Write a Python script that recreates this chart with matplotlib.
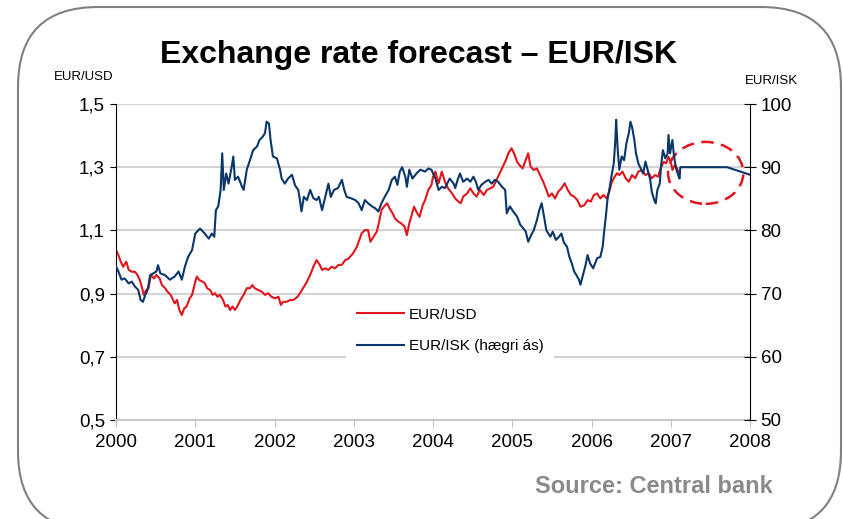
import matplotlib
matplotlib.use('Agg')
import matplotlib.pyplot as plt
from matplotlib.patches import FancyBboxPatch, Ellipse
from matplotlib.transforms import IdentityTransform
from matplotlib.lines import Line2D

plt.rcParams['font.family'] = ['Liberation Sans', 'DejaVu Sans']

# EUR/USD (left axis)
usd_t = [2000.00, 2000.03, 2000.06, 2000.09, 2000.13, 2000.16, 2000.20, 2000.24, 2000.27, 2000.30,
         2000.33, 2000.35, 2000.38, 2000.41, 2000.44, 2000.48, 2000.51, 2000.55, 2000.58, 2000.62,
         2000.65, 2000.69, 2000.72, 2000.74, 2000.77, 2000.80, 2000.83, 2000.86, 2000.89, 2000.93,
         2000.96, 2001.00, 2001.02, 2001.05, 2001.09, 2001.12, 2001.15, 2001.19, 2001.22, 2001.25,
         2001.28, 2001.31, 2001.35, 2001.38, 2001.41, 2001.44, 2001.47, 2001.50, 2001.53, 2001.57,
         2001.61, 2001.65, 2001.69, 2001.72, 2001.75, 2001.80, 2001.84, 2001.88, 2001.92, 2001.96,
         2002.01, 2002.05, 2002.08, 2002.11, 2002.15, 2002.20, 2002.24, 2002.29, 2002.32, 2002.36,
         2002.41, 2002.45, 2002.49, 2002.53, 2002.57, 2002.60, 2002.64, 2002.68, 2002.72, 2002.76,
         2002.81, 2002.85, 2002.89, 2002.93, 2002.99, 2003.04, 2003.07, 2003.10, 2003.14, 2003.18,
         2003.21, 2003.25, 2003.29, 2003.32, 2003.35, 2003.38, 2003.42, 2003.45, 2003.49, 2003.52,
         2003.56, 2003.60, 2003.64, 2003.67, 2003.70, 2003.73, 2003.76, 2003.79, 2003.83, 2003.87,
         2003.90, 2003.94, 2003.98, 2004.00, 2004.03, 2004.07, 2004.11, 2004.15, 2004.19, 2004.24,
         2004.28, 2004.32, 2004.35, 2004.38, 2004.43, 2004.47, 2004.51, 2004.55, 2004.59, 2004.64,
         2004.68, 2004.72, 2004.76, 2004.80, 2004.85, 2004.89, 2004.92, 2004.95, 2004.99, 2005.03,
         2005.06, 2005.09, 2005.13, 2005.17, 2005.20, 2005.23, 2005.27, 2005.31, 2005.35, 2005.39,
         2005.43, 2005.46, 2005.50, 2005.54, 2005.58, 2005.62, 2005.66, 2005.70, 2005.74, 2005.78,
         2005.82, 2005.86, 2005.91, 2005.95, 2005.99, 2006.03, 2006.07, 2006.11, 2006.15, 2006.19,
         2006.23, 2006.25, 2006.28, 2006.32, 2006.35, 2006.39, 2006.43, 2006.47, 2006.51, 2006.55,
         2006.59, 2006.63, 2006.68, 2006.72, 2006.76, 2006.80, 2006.84, 2006.87, 2006.91, 2006.94,
         2006.97, 2007.00, 2007.02, 2007.05, 2007.08, 2007.10]
usd = [1.038, 1.022, 1.001, 0.985, 1.001, 0.975, 0.969, 0.969, 0.959, 0.943,
       0.917, 0.896, 0.911, 0.917, 0.959, 0.948, 0.959, 0.948, 0.927, 0.917,
       0.906, 0.896, 0.880, 0.869, 0.880, 0.848, 0.832, 0.853, 0.859, 0.885,
       0.896, 0.938, 0.954, 0.943, 0.938, 0.933, 0.917, 0.911, 0.896, 0.901,
       0.890, 0.896, 0.880, 0.859, 0.864, 0.848, 0.859, 0.848, 0.859, 0.880,
       0.896, 0.917, 0.917, 0.927, 0.917, 0.911, 0.906, 0.896, 0.901, 0.890,
       0.885, 0.890, 0.864, 0.874, 0.874, 0.880, 0.880, 0.890, 0.901, 0.917,
       0.938, 0.959, 0.985, 1.006, 0.991, 0.975, 0.980, 0.975, 0.985, 0.980,
       0.991, 0.991, 1.006, 1.010, 1.027, 1.049, 1.070, 1.091, 1.101, 1.101,
       1.064, 1.080, 1.096, 1.128, 1.165, 1.175, 1.186, 1.170, 1.154, 1.138,
       1.128, 1.122, 1.112, 1.085, 1.122, 1.149, 1.175, 1.159, 1.143, 1.180,
       1.196, 1.228, 1.244, 1.270, 1.286, 1.249, 1.286, 1.254, 1.233, 1.217,
       1.201, 1.191, 1.186, 1.207, 1.217, 1.233, 1.217, 1.207, 1.228, 1.212,
       1.228, 1.233, 1.238, 1.259, 1.286, 1.307, 1.323, 1.344, 1.360, 1.339,
       1.317, 1.307, 1.296, 1.323, 1.344, 1.302, 1.291, 1.296, 1.275, 1.254,
       1.228, 1.207, 1.217, 1.201, 1.223, 1.233, 1.249, 1.228, 1.212, 1.207,
       1.196, 1.175, 1.180, 1.196, 1.191, 1.212, 1.217, 1.201, 1.212, 1.201,
       1.228, 1.249, 1.265, 1.281, 1.275, 1.286, 1.265, 1.254, 1.275, 1.265,
       1.286, 1.291, 1.275, 1.281, 1.265, 1.275, 1.270, 1.296, 1.317, 1.312,
       1.333, 1.317, 1.291, 1.307, 1.296, 1.281]

# EUR/ISK (right axis)
isk_t = [2000.00, 2000.03, 2000.07, 2000.11, 2000.16, 2000.20, 2000.24, 2000.28, 2000.31, 2000.34,
         2000.37, 2000.40, 2000.43, 2000.47, 2000.51, 2000.53, 2000.56, 2000.62, 2000.68, 2000.74,
         2000.79, 2000.83, 2000.87, 2000.91, 2000.96, 2001.00, 2001.06, 2001.12, 2001.17, 2001.21,
         2001.24, 2001.26, 2001.29, 2001.32, 2001.34, 2001.36, 2001.39, 2001.42, 2001.46, 2001.48,
         2001.50, 2001.54, 2001.59, 2001.61, 2001.65, 2001.69, 2001.73, 2001.78, 2001.81, 2001.85,
         2001.88, 2001.90, 2001.93, 2001.95, 2001.98, 2002.03, 2002.07, 2002.09, 2002.13, 2002.17,
         2002.22, 2002.26, 2002.30, 2002.32, 2002.34, 2002.37, 2002.41, 2002.45, 2002.49, 2002.53,
         2002.56, 2002.60, 2002.64, 2002.68, 2002.71, 2002.75, 2002.80, 2002.85, 2002.88, 2002.91,
         2002.96, 2003.02, 2003.06, 2003.10, 2003.14, 2003.18, 2003.23, 2003.27, 2003.31, 2003.35,
         2003.39, 2003.44, 2003.48, 2003.52, 2003.55, 2003.58, 2003.61, 2003.65, 2003.67, 2003.70,
         2003.74, 2003.79, 2003.84, 2003.90, 2003.94, 2003.98, 2004.03, 2004.07, 2004.11, 2004.15,
         2004.21, 2004.26, 2004.28, 2004.31, 2004.34, 2004.38, 2004.43, 2004.47, 2004.51, 2004.54,
         2004.57, 2004.61, 2004.66, 2004.70, 2004.74, 2004.78, 2004.82, 2004.87, 2004.91, 2004.93,
         2004.97, 2005.01, 2005.06, 2005.10, 2005.14, 2005.17, 2005.20, 2005.24, 2005.27, 2005.31,
         2005.34, 2005.37, 2005.40, 2005.43, 2005.48, 2005.51, 2005.55, 2005.59, 2005.62, 2005.65,
         2005.69, 2005.72, 2005.75, 2005.78, 2005.81, 2005.84, 2005.86, 2005.88, 2005.92, 2005.95,
         2005.98, 2006.02, 2006.07, 2006.11, 2006.14, 2006.16, 2006.18, 2006.20, 2006.23, 2006.25,
         2006.28, 2006.30, 2006.31, 2006.33, 2006.35, 2006.38, 2006.41, 2006.44, 2006.47, 2006.49,
         2006.51, 2006.54, 2006.56, 2006.59, 2006.62, 2006.65, 2006.68, 2006.72, 2006.74, 2006.76,
         2006.79, 2006.81, 2006.83, 2006.86, 2006.88, 2006.90, 2006.93, 2006.96, 2006.97, 2006.99,
         2007.02, 2007.04, 2007.07, 2007.10, 2007.11]
isk = [74.3, 73.5, 72.2, 72.4, 71.6, 71.9, 71.1, 70.6, 69.0, 68.7,
       69.8, 70.6, 72.9, 73.2, 73.5, 74.5, 73.2, 72.9, 72.2, 72.7,
       73.5, 72.2, 74.3, 75.8, 76.9, 79.5, 80.3, 79.5, 78.7, 79.5,
       79.0, 83.2, 83.8, 86.4, 92.2, 86.4, 89.0, 87.4, 90.1, 91.7,
       88.0, 88.5, 86.9, 86.4, 89.6, 91.1, 92.7, 93.3, 94.3, 94.8,
       95.4, 97.2, 96.9, 94.3, 91.7, 91.4, 89.6, 88.2, 87.4, 88.2,
       88.8, 87.1, 86.4, 84.8, 83.0, 85.3, 84.8, 86.4, 85.1, 84.8,
       85.3, 83.2, 85.3, 87.4, 85.3, 86.4, 86.7, 88.0, 86.4, 85.3,
       85.1, 84.8, 84.3, 83.2, 84.8, 84.3, 83.8, 83.5, 83.0, 84.3,
       85.3, 86.4, 88.0, 88.5, 87.2, 89.3, 90.0, 88.5, 86.9, 89.6,
       88.2, 89.0, 89.6, 89.3, 89.8, 89.6, 88.2, 86.4, 86.9, 86.7,
       88.2, 87.4, 86.7, 88.0, 89.0, 87.7, 88.2, 87.7, 88.5, 87.7,
       86.4, 87.2, 87.7, 88.0, 87.4, 88.0, 87.7, 86.9, 86.4, 82.7,
       83.8, 83.0, 82.2, 80.9, 80.3, 79.8, 78.2, 79.3, 80.0, 81.6,
       83.2, 84.3, 82.2, 80.0, 79.0, 79.8, 78.5, 79.0, 79.5, 78.1,
       77.4, 75.8, 74.8, 73.5, 72.9, 72.2, 71.4, 72.4, 74.3, 76.1,
       74.8, 74.0, 75.6, 75.8, 77.4, 80.0, 82.2, 84.8, 86.9, 88.5,
       90.6, 94.3, 97.5, 92.7, 89.6, 91.7, 91.1, 93.8, 95.4, 97.2,
       96.4, 94.3, 92.2, 90.6, 89.8, 89.0, 90.9, 89.0, 88.0, 86.1,
       84.8, 84.3, 86.4, 87.4, 90.6, 92.7, 91.4, 92.2, 95.1, 92.2,
       94.3, 91.7, 89.6, 88.5, 88.2]

# forecast path
fc_t = [2007.11, 2007.12, 2007.71, 2007.83, 2008.00]
fc = [88.2, 90.0, 90.0, 89.5, 88.8]

red = '#e3141c'
blue = '#0a3669'

fig = plt.figure(figsize=(8.43, 5.19), dpi=100)
ax = fig.add_axes([0.1376, 0.1908, 0.7522, 0.6088])
ax2 = ax.twinx()

ax.plot(usd_t, usd, color=red, lw=1.5)
ax2.plot(isk_t + fc_t, isk + fc, color=blue, lw=1.5)

ax.set_xlim(2000, 2008)
ax.set_ylim(0.5, 1.5)
ax2.set_ylim(50, 100)

ax.set_xticks(range(2000, 2009))
ax.set_xticklabels([str(y) for y in range(2000, 2009)])
yt = [0.5, 0.7, 0.9, 1.1, 1.3, 1.5]
ax.set_yticks(yt)
ax.set_yticklabels([('%.1f' % v).replace('.', ',') for v in yt])
ax2.set_yticks([50, 60, 70, 80, 90, 100])

ax.grid(axis='y', color='#d3d3d3', lw=1.5)
ax.set_axisbelow(True)

for s in ['top', 'right']:
    ax.spines[s].set_visible(False)
for s in ['top', 'left', 'bottom']:
    ax2.spines[s].set_visible(False)
ax.spines['bottom'].set_color('#c8c8c8')
ax.spines['bottom'].set_linewidth(1.5)
ax.spines['left'].set_color('black')
ax2.spines['right'].set_color('black')

ax.tick_params(axis='y', direction='out', length=4, labelsize=13.5, pad=4)
ax.tick_params(axis='x', direction='out', length=5, color='#c0c0c0', labelsize=13.5, pad=5)
ax2.tick_params(axis='y', direction='inout', length=9, labelsize=13.5, pad=3)

# dashed ring round the forecast
ax2.add_patch(Ellipse((2007.44, 89.1), 0.95, 9.8, fill=False, edgecolor=red,
                      lw=1.8, linestyle=(0, (5, 3)), clip_on=False))

handles = [Line2D([], [], color=red, lw=1.5), Line2D([], [], color=blue, lw=1.5)]
leg = ax2.legend(handles, ['EUR/USD', 'EUR/ISK (hægri ás)'], loc='center',
                 bbox_to_anchor=(0.534, 0.363), bbox_transform=fig.transFigure,
                 fontsize=11, frameon=True, fancybox=False, edgecolor='none',
                 facecolor='white', framealpha=1, handlelength=3.1,
                 handletextpad=0.3, labelspacing=1.15, borderpad=0.7)

fig.text(0.496, 0.8792, 'Exchange rate forecast \u2013 EUR/ISK', fontsize=23,
         fontweight='bold', ha='center', va='baseline')
fig.text(0.099, 0.8459, 'EUR/USD', fontsize=9.5, ha='center', va='baseline')
fig.text(0.915, 0.8382, 'EUR/ISK', fontsize=9.5, ha='center', va='baseline')
fig.text(0.917, 0.0507, 'Source: Central bank', fontsize=17, fontweight='bold',
         color='#8a8a8a', ha='right', va='baseline')

# rounded frame, bottom edge runs off the image
border = FancyBboxPatch((18, -12), 823, 524, boxstyle='round,pad=0,rounding_size=80',
                        transform=IdentityTransform(), fill=False,
                        edgecolor='#808080', lw=1.5)
fig.add_artist(border)

fig.savefig('out.png', dpi=100)
